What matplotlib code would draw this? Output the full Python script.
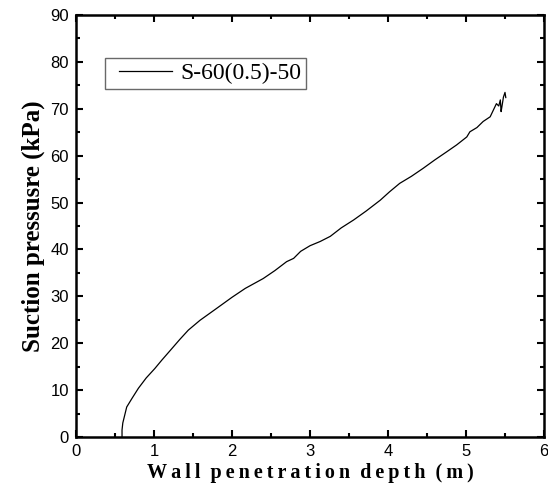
import matplotlib.pyplot as plt
import numpy as np
from matplotlib.ticker import MultipleLocator
from matplotlib.legend_handler import HandlerLine2D

depth = [0.59, 0.59, 0.60, 0.65, 0.72, 0.80, 0.90, 1.01, 1.10, 1.21, 1.33, 1.44,
         1.59, 1.80, 2.00, 2.17, 2.40, 2.55, 2.70, 2.79, 2.88, 3.00, 3.13, 3.26,
         3.40, 3.56, 3.72, 3.90, 4.02, 4.15, 4.30, 4.45, 4.60, 4.75, 4.88, 5.01,
         5.05, 5.14, 5.22, 5.31, 5.35, 5.39, 5.42, 5.44, 5.45, 5.46, 5.48, 5.50,
         5.51]
pressure = [0.0, 1.5, 3.0, 6.4, 8.3, 10.4, 12.6, 14.6, 16.4, 18.5, 20.8, 22.8,
            24.9, 27.4, 29.8, 31.7, 33.8, 35.5, 37.4, 38.1, 39.6, 40.8, 41.7, 42.8,
            44.6, 46.3, 48.2, 50.5, 52.3, 54.1, 55.6, 57.3, 59.1, 60.8, 62.3, 64.0,
            65.1, 66.0, 67.3, 68.3, 69.7, 71.1, 70.6, 71.9, 69.4, 70.4, 72.5, 73.5,
            72.4]
series_label = 'S-60(0.5)-50'
xlabel = 'Wall penetration depth (m)'
ylabel = 'Suction pressusre (kPa)'


class PaddedLine(HandlerLine2D):
    # leave some blank room before the legend line, like the original
    def get_xdata(self, legend, xdescent, ydescent, width, height, fontsize):
        return [-xdescent + 7, width - xdescent], [-xdescent + 7, width - xdescent]


fig = plt.figure(figsize=(5.48, 5.01), dpi=100)
ax = fig.add_axes([0.1387, 0.1277, 0.854, 0.8423])

ax.plot(depth, pressure, color='black', linewidth=0.9, label=series_label)

ax.set_xlim(0, 6)
ax.set_ylim(0, 90)
ax.xaxis.set_major_locator(MultipleLocator(1))
ax.xaxis.set_minor_locator(MultipleLocator(0.5))
ax.yaxis.set_major_locator(MultipleLocator(10))
ax.yaxis.set_minor_locator(MultipleLocator(5))

for s in ax.spines.values():
    s.set_linewidth(1.8)

ax.tick_params(which='both', direction='in', top=True, right=True,
               labeltop=False, labelright=False, width=1.5)
ax.tick_params(which='major', length=5, labelsize=12, pad=5)
ax.tick_params(which='minor', length=3)
for lab in ax.get_xticklabels() + ax.get_yticklabels():
    lab.set_family('Liberation Sans')

# letter-spaced x label
spaced = '  '.join('\u2009'.join(w) for w in xlabel.split(' '))
ax.set_xlabel(spaced, family='Liberation Serif', fontweight='bold',
              fontsize=14.5, labelpad=3)
ax.set_ylabel(ylabel, family='Liberation Serif', fontweight='bold',
              fontsize=18, labelpad=4)

leg = ax.legend(loc='upper left', bbox_to_anchor=(0.062, 0.898), borderaxespad=0,
                prop={'family': 'Liberation Serif', 'size': 17},
                frameon=True, fancybox=False, edgecolor='#444444',
                handlelength=2.65, handletextpad=0.35, borderpad=0.2,
                handler_map={plt.Line2D: PaddedLine()})
leg.get_frame().set_linewidth(1.0)

fig.savefig('out.png', dpi=100)
